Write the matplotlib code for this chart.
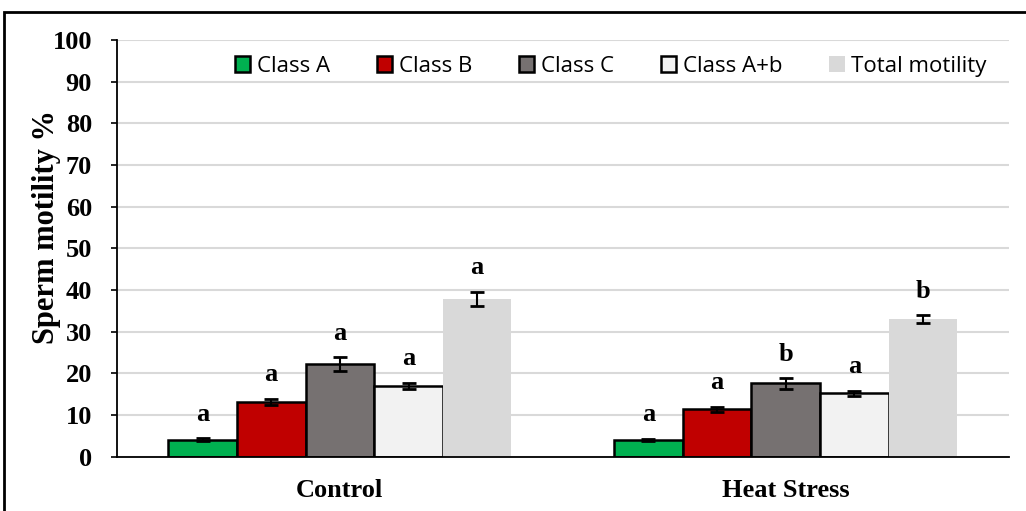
import matplotlib.pyplot as plt
import numpy as np
from matplotlib.patches import Rectangle

groups = ["Control", "Heat Stress"]
series = ["Class A", "Class B", "Class C", "Class A+b", "Total motility"]
values = [
    [4.1, 13.2, 22.2, 17.0, 37.9],
    [4.1, 11.4, 17.6, 15.3, 33.0],
]
errors = [
    [0.3, 0.7, 1.7, 0.8, 1.7],
    [0.2, 0.6, 1.3, 0.6, 1.0],
]
letters = [
    ["a", "a", "a", "a", "a"],
    ["a", "a", "b", "a", "b"],
]
colors = ["#00b050", "#c00000", "#767171", "#f2f2f2", "#d9d9d9"]
edges = ["black", "black", "black", "black", "none"]

serif = "Liberation Serif"
fig = plt.figure(figsize=(10.26, 5.11), dpi=100)
ax = fig.add_axes([0.114, 0.106, 0.869, 0.816])

x = np.arange(len(groups))
width = 0.154
vals = np.array(values)
errs = np.array(errors)
for i, name in enumerate(series):
    pos = x + (i - 2) * width
    ax.bar(pos, vals[:, i], width, color=colors[i], edgecolor=edges[i],
           linewidth=1.8, label=name, zorder=2)
    ax.errorbar(pos, vals[:, i], yerr=errs[:, i], fmt="none", ecolor="black",
                elinewidth=1.5, capsize=5, capthick=2, zorder=3)
    for g in range(len(groups)):
        ax.annotate(letters[g][i], (pos[g], vals[g, i] + errs[g, i]),
                    xytext=(0, 9), textcoords="offset points", ha="center",
                    va="bottom", fontsize=19, fontweight="bold", family=serif)

ax.set_ylim(0, 100)
ax.set_xlim(-0.5, 1.5)
ax.set_yticks(range(0, 101, 10))
ax.set_xticks(x)
ax.set_xticklabels(groups)
ax.yaxis.grid(True, color="#d9d9d9", linewidth=1.5, zorder=0)
ax.set_axisbelow(True)
for s in ["top", "right"]:
    ax.spines[s].set_visible(False)
ax.spines["left"].set_linewidth(1.3)
ax.spines["bottom"].set_linewidth(1.3)
ax.tick_params(axis="y", length=4, width=1.2, pad=14)
ax.tick_params(axis="x", length=0, pad=16)
for lab in ax.get_xticklabels() + ax.get_yticklabels():
    lab.set_family(serif)
    lab.set_fontweight("bold")
    lab.set_fontsize(19)
ax.set_ylabel("Sperm motility %", fontsize=22, fontweight="bold",
              family=serif, va="center")
ax.yaxis.set_label_coords(-0.079, 0.55)

leg = ax.legend(loc="upper right", ncol=5, frameon=False,
                prop={"family": "Open Sans", "size": 16},
                bbox_to_anchor=(0.998, 1.01), handlelength=0.7, handleheight=0.7,
                handletextpad=0.3, columnspacing=2.1)

fig.patches.append(Rectangle((0.004, -0.05), 1.2, 1.026, transform=fig.transFigure,
                             fill=False, edgecolor="black", linewidth=2))

fig.savefig("out.png", dpi=100)
